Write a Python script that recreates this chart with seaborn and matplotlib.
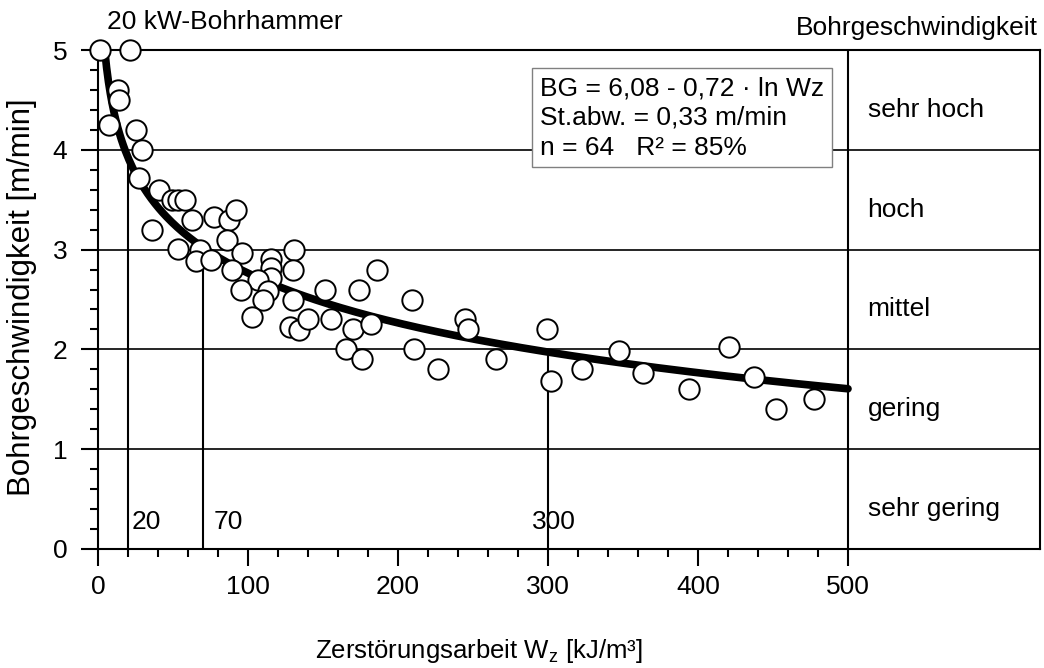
import numpy as np
import matplotlib
matplotlib.use("Agg")
import matplotlib.pyplot as plt
import seaborn as sns
from matplotlib.ticker import FixedLocator

# ---- data ----
wz = [1.3, 21, 13, 14, 7, 25, 29.5, 27.5, 40.5, 49, 53, 58, 62.4, 36, 77.3, 87, 92, 86,
      96.3, 53, 67.8, 65.5, 75, 89.3, 115, 115, 115, 106.5, 113.6, 110, 95, 102.4,
      130.5, 129.8, 129.8, 128, 134.2, 140.2, 155.1, 151.3, 174.2, 186, 170.2, 182,
      165.3, 175.8, 209, 210.8, 226.4, 244.7, 246.9, 265.1, 299.1, 302, 322.4, 347.6,
      363, 393.8, 420.7, 437.6, 451.8, 477.3]
bg = [5.0, 5.0, 4.6, 4.5, 4.25, 4.2, 4.0, 3.72, 3.6, 3.5, 3.5, 3.5, 3.3, 3.2, 3.33, 3.3,
      3.4, 3.1, 2.97, 3.01, 3.0, 2.89, 2.9, 2.8, 2.91, 2.82, 2.72, 2.7, 2.59, 2.5, 2.6,
      2.32, 3.0, 2.8, 2.5, 2.22, 2.19, 2.3, 2.3, 2.6, 2.6, 2.8, 2.2, 2.25, 2.0, 1.9, 2.5,
      2.0, 1.8, 2.3, 2.2, 1.9, 2.2, 1.68, 1.8, 1.98, 1.76, 1.6, 2.02, 1.72, 1.4, 1.5]
fit_a, fit_b = 6.08, 0.72          # BG = 6,08 - 0,72 * ln Wz
marked_wz = [20, 70, 300]
marked_labels = ["20", "70", "300"]
classes = ["sehr hoch", "hoch", "mittel", "gering", "sehr gering"]
class_centers = [4.5, 3.5, 2.5, 1.5, 0.5]
x_ticks = [0, 100, 200, 300, 400, 500]
y_ticks = [0, 1, 2, 3, 4, 5]
box_text = "BG = 6,08 - 0,72 · ln Wz\nSt.abw. = 0,33 m/min\nn = 64   R² = 85%"

sns.set_style("ticks")
plt.rcParams['font.family'] = ['Liberation Sans', 'DejaVu Sans']
plt.rcParams['mathtext.fontset'] = 'custom'
plt.rcParams['mathtext.rm'] = 'Liberation Sans'
plt.rcParams['mathtext.it'] = 'Liberation Sans:italic'
plt.rcParams['text.color'] = 'black'
plt.rcParams['axes.labelcolor'] = 'black'
FS = 19

fig = plt.figure(figsize=(10.44, 6.68), dpi=100)
ax = fig.add_axes([98/1044, (668-549)/668, (1040-98)/1044, (549-50)/668])
ax.set_xlim(0, 628)
ax.set_ylim(0, 5)

# class grid
for y in [1, 2, 3, 4]:
    ax.axhline(y, color='black', lw=1.2, zorder=1)
ax.axvline(500, color='black', lw=1.5, zorder=1)

# regression curve
x_fit = np.linspace(np.exp((fit_a - 5) / fit_b), 500, 400)
y_fit = fit_a - fit_b * np.log(x_fit)
sns.lineplot(x=x_fit, y=y_fit, color='black', lw=5.5, ax=ax, zorder=3,
             solid_capstyle='round')

# marker lines
for w in marked_wz:
    ax.plot([w, w], [0, fit_a - fit_b * np.log(w)], color='black', lw=1.5, zorder=2)

# points
sns.scatterplot(x=wz, y=bg, s=215, color='white', edgecolor='black', linewidth=1.4,
                zorder=5, clip_on=False, ax=ax)

# labels on marker lines
ax.text(22.5, 0.27, marked_labels[0], ha='left', va='center', fontsize=FS, zorder=6)
ax.text(77.3, 0.27, marked_labels[1], ha='left', va='center', fontsize=FS, zorder=6)
ax.text(303.7, 0.27, marked_labels[2], ha='center', va='center', fontsize=FS, zorder=1)

# class labels
for name, c in zip(classes, class_centers):
    ax.text(513, c - 0.1, name, ha='left', va='center', fontsize=FS)

# equation box
ax.text(294.5, 4.32, box_text, ha='left', va='center', fontsize=FS, linespacing=1.3,
        zorder=7,
        bbox=dict(boxstyle='square,pad=0.3', facecolor='white', edgecolor='#808080', lw=1))

# top texts
ax.text(6, 5.21, "20 kW-Bohrhammer", ha='left', va='baseline', fontsize=FS, clip_on=False)
ax.text(626.5, 5.15, "Bohrgeschwindigkeit", ha='right', va='baseline', fontsize=FS, clip_on=False)

# ticks
ax.set_xticks(x_ticks)
ax.set_xticklabels([str(v) for v in x_ticks])
ax.xaxis.set_minor_locator(FixedLocator([v for v in range(20, 500, 20) if v % 100]))
ax.set_yticks(y_ticks)
ax.set_yticklabels([str(v) for v in y_ticks])
ax.yaxis.set_minor_locator(FixedLocator([round(v, 1) for v in np.arange(0.2, 5, 0.2) if abs(v - round(v)) > 1e-6]))
ax.tick_params(which='major', direction='out', length=12, width=1.5, labelsize=FS,
               color='black', labelcolor='black')
ax.tick_params(axis='x', which='major', pad=7)
ax.tick_params(axis='y', which='major', pad=10)
ax.tick_params(which='minor', direction='out', length=6, width=1.5, color='black')

for s in ax.spines.values():
    s.set_color('black')
    s.set_linewidth(1.5)

ax.set_xlabel("Zerstörungsarbeit W$_\\mathregular{z}$ [kJ/m³]", fontsize=18.5, color='black')
ax.set_ylabel("Bohrgeschwindigkeit [m/min]", fontsize=22.5, color='black')
ax.xaxis.set_label_coords(0.404, -0.176)
ax.yaxis.set_label_coords(-0.065, 0.505)

fig.savefig("out.png", dpi=100)
